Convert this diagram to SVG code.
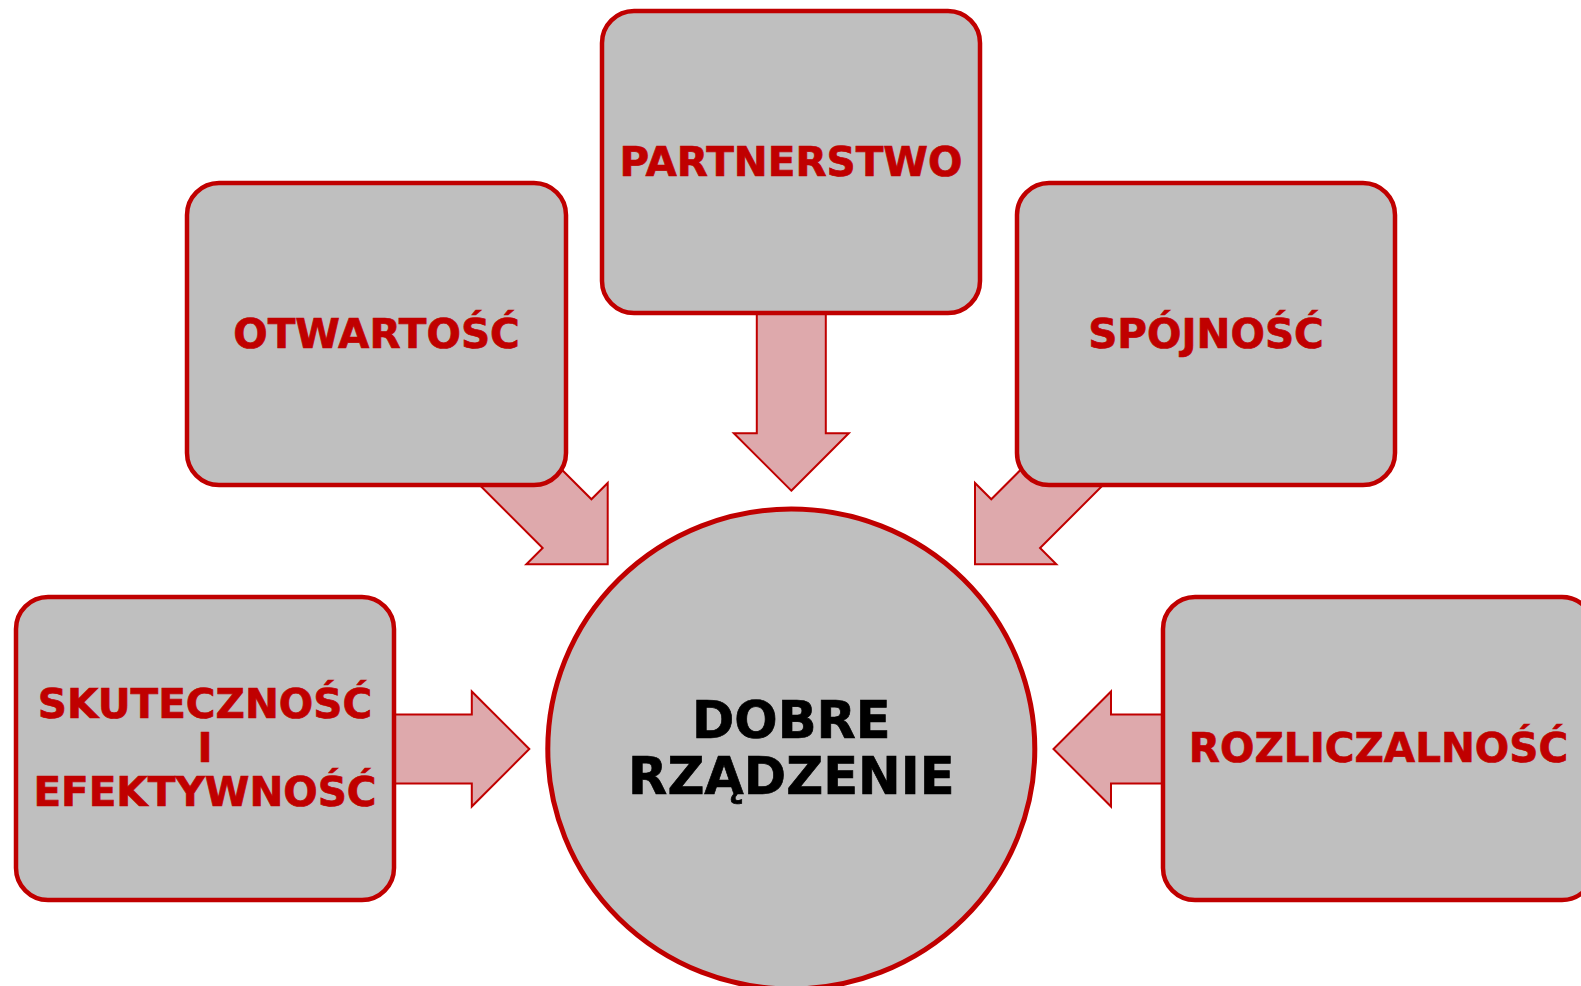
<svg xmlns="http://www.w3.org/2000/svg" width="1581" height="986" viewBox="0 0 1581 986">
<style>
.box{fill:#BFBFBF;stroke:#C00000;stroke-width:4.5}
.arr{fill:#DEA9AC;stroke:#C00000;stroke-width:2;stroke-linejoin:miter}
.lbl{font-family:"DejaVu Sans","Verdana",sans-serif;font-weight:bold;font-size:40.5px;fill:#C00000;stroke:#C00000;stroke-width:0.7;text-anchor:middle}
.ctr{font-family:"DejaVu Sans","Verdana",sans-serif;font-weight:bold;font-size:51px;fill:#000000;stroke:#000000;stroke-width:0.7;text-anchor:middle}
</style>
<defs>
<path id="arrowLong" d="M0,0 L-57.5,-57.5 L-57.5,-34.5 L-200,-34.5 L-200,34.5 L-57.5,34.5 L-57.5,57.5 Z"/>
<path id="arrowShort" d="M0,0 L-57.5,-57.5 L-57.5,-34.5 L-160,-34.5 L-160,34.5 L-57.5,34.5 L-57.5,57.5 Z"/>
</defs>
<rect width="1581" height="986" fill="#FFFFFF"/>
<g id="connectors">
<use href="#arrowLong" class="arr" transform="translate(791.3,490.7) rotate(90)"/>
<use href="#arrowLong" class="arr" transform="translate(607.7,564.3) rotate(45)"/>
<use href="#arrowLong" class="arr" transform="translate(975,564.3) rotate(135)"/>
<use href="#arrowShort" class="arr" transform="translate(529.3,749)"/>
<use href="#arrowShort" class="arr" transform="translate(1053.5,749) rotate(180)"/>
</g>
<g id="node-partnerstwo">
<rect class="box" x="602" y="11" width="378" height="302" rx="32" ry="32"/>
<text class="lbl" x="791" y="175.7">PARTNERSTWO</text>
</g>
<g id="node-otwartosc">
<rect class="box" x="187" y="183" width="379" height="302" rx="32" ry="32"/>
<text class="lbl" x="376.5" y="347.7">OTWARTOŚĆ</text>
</g>
<g id="node-spojnosc">
<rect class="box" x="1017" y="183" width="378" height="302" rx="32" ry="32"/>
<text class="lbl" x="1206" y="347.7">SPÓJNOŚĆ</text>
</g>
<g id="node-skutecznosc">
<rect class="box" x="16" y="597" width="378" height="303" rx="32" ry="32"/>
<text class="lbl" x="205" y="718.3">SKUTECZNOŚĆ</text>
<text class="lbl" x="205" y="761.7">I</text>
<text class="lbl" x="205" y="805.7">EFEKTYWNOŚĆ</text>
</g>
<g id="node-rozliczalnosc">
<rect class="box" x="1163" y="597" width="431" height="303" rx="32" ry="32"/>
<text class="lbl" x="1378.5" y="761.7">ROZLICZALNOŚĆ</text>
</g>
<g id="node-dobre-rzadzenie">
<ellipse class="box" cx="791.3" cy="749" rx="243.5" ry="240" style="stroke-width:5"/>
<text class="ctr" x="791.3" y="738.3">DOBRE</text>
<text class="ctr" x="791.3" y="794">RZĄDZENIE</text>
</g>
</svg>
